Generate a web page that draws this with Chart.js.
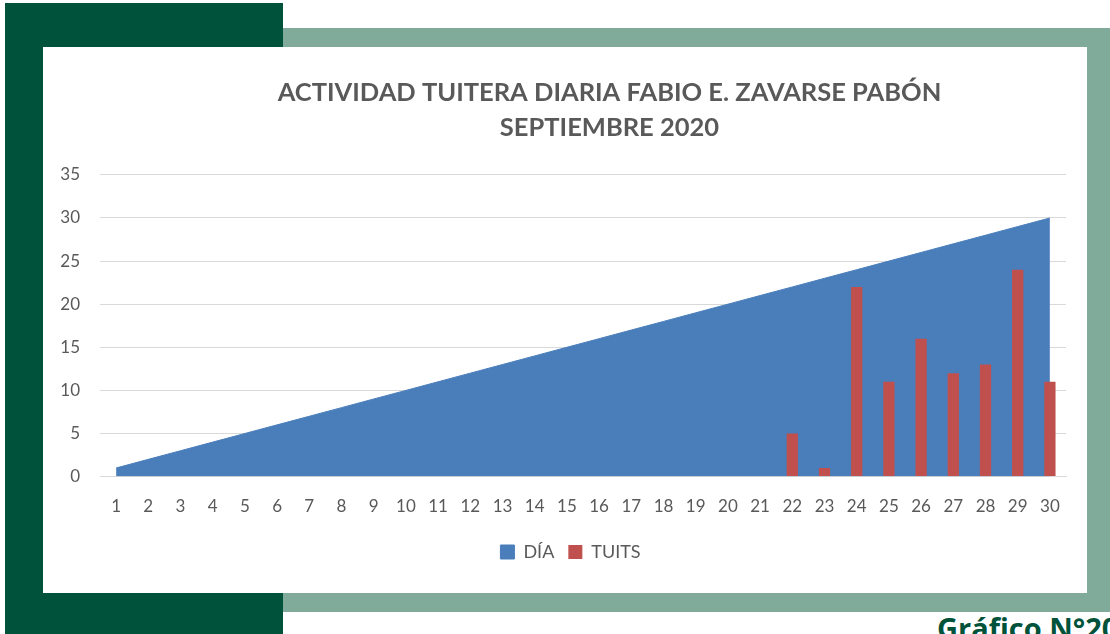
<!DOCTYPE html>
<html>
<head>
<meta charset="utf-8">
<script src="https://cdn.jsdelivr.net/npm/chart.js@4"></script>
<style>
  html, body { margin: 0; padding: 0; }
  body { width: 1110px; height: 634px; position: relative; overflow: hidden; background: #fff; font-family: Lato, sans-serif; }
  #dark { position: absolute; left: 5px; top: 3px; width: 278px; height: 631px; background: #00523a; }
  #light { position: absolute; left: 283px; top: 28px; width: 827px; height: 584px; background: #80aa9a; }
  #card { position: absolute; left: 43px; top: 47px; width: 1044px; height: 546px; background: #fff; }
  #caption { position: absolute; left: 937px; top: 613px; font: bold 29px/1 "Open Sans", sans-serif; color: #00523a; white-space: nowrap; }
</style>
</head>
<body>
<div id="dark"></div>
<div id="light"></div>
<div id="card"><canvas id="grafico" width="1044" height="546"></canvas></div>
<div id="caption">Gráfico N°20</div>
<script>
var dias = ['1','2','3','4','5','6','7','8','9','10','11','12','13','14','15','16','17','18','19','20','21','22','23','24','25','26','27','28','29','30'];
var diaValores = [1,2,3,4,5,6,7,8,9,10,11,12,13,14,15,16,17,18,19,20,21,22,23,24,25,26,27,28,29,30];
var tuits = [0,0,0,0,0,0,0,0,0,0,0,0,0,0,0,0,0,0,0,0,0,5,1,22,11,16,12,13,24,11];
var tituloLineas = ['ACTIVIDAD TUITERA DIARIA FABIO E. ZAVARSE PABÓN', 'SEPTIEMBRE 2020'];

var gris = '#595959';

// titulo y leyenda de Excel quedan algo a la derecha del centro del lienzo
var moverBloques = {
  id: 'moverBloques',
  afterLayout: function (chart) {
    chart.titleBlock.left += 55;
    chart.titleBlock.right += 55;
    chart.legend.left += 16;
    chart.legend.right += 16;
  }
};

new Chart(document.getElementById('grafico'), {
  type: 'line',
  data: {
    labels: dias,
    datasets: [{
      type: 'line',
      label: 'DÍA',
      data: diaValores,
      backgroundColor: '#4a7ebb',
      borderColor: '#4a7ebb',
      borderWidth: 1,
      pointRadius: 0,
      fill: 'origin',
      tension: 0
    }, {
      type: 'bar',
      label: 'TUITS',
      data: tuits,
      backgroundColor: '#c0504d',
      barPercentage: 0.35,
      categoryPercentage: 1
    }]
  },
  options: {
    responsive: false,
    animation: false,
    layout: { padding: { left: 0, right: 21, top: 0, bottom: 22 } },
    plugins: {
      filler: { drawTime: 'beforeDatasetsDraw' },
      tooltip: { enabled: false },
      title: {
        display: true,
        text: tituloLineas,
        color: gris,
        font: { family: 'Lato', size: 25.5, weight: 'bold', lineHeight: 1.37 },
        padding: { top: 28, bottom: 30 }
      },
      legend: {
        position: 'bottom',
        labels: {
          color: gris,
          font: { family: 'Lato', size: 18 },
          usePointStyle: true,
          pointStyle: 'rect',
          boxWidth: 14,
          boxHeight: 14,
          padding: 14
        }
      }
    },
    scales: {
      x: {
        offset: true,
        grid: { display: false },
        border: { display: true, color: '#d9d9d9' },
        ticks: { color: gris, font: { family: 'Lato', size: 17 }, padding: 12, maxRotation: 0, autoSkip: false }
      },
      y: {
        min: 0,
        max: 35,
        afterFit: function (scale) { scale.width = 57; },
        grid: { color: '#d9d9d9', drawTicks: false },
        border: { display: false },
        ticks: { stepSize: 5, color: gris, font: { family: 'Lato', size: 17 }, padding: 20 }
      }
    }
  },
  plugins: [moverBloques]
});
</script>
</body>
</html>
